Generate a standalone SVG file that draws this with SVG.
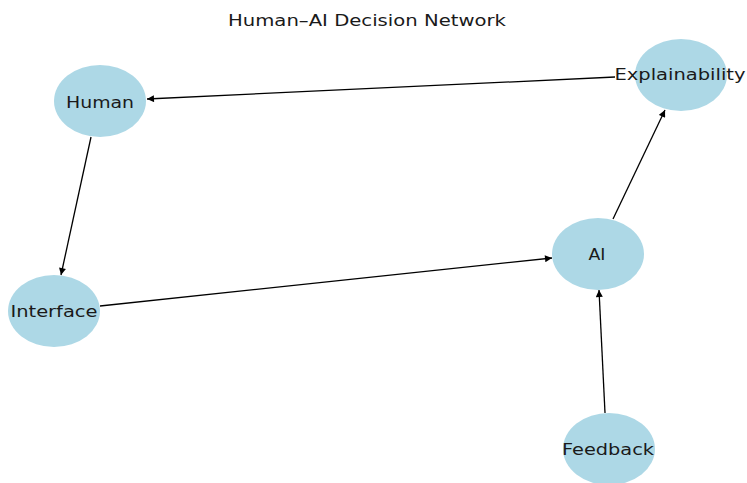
<svg xmlns="http://www.w3.org/2000/svg" width="747" height="483" viewBox="0 0 747 483">
<style>
.node{fill:#add8e6}
.lbl{font-family:"DejaVu Sans",sans-serif;font-size:16px;fill:#1a1a1a;text-anchor:middle;dominant-baseline:central}
.ttl{font-family:"DejaVu Sans",sans-serif;font-size:15px;fill:#1a1a1a;text-anchor:middle;dominant-baseline:central}
.edge{stroke:#000;stroke-width:1.3;fill:none;marker-end:url(#ah)}
</style>
<defs>
<marker id="ah" viewBox="0 0 10 10" refX="10" refY="5" markerWidth="8" markerHeight="7" markerUnits="userSpaceOnUse" orient="auto">
<path d="M0,0 L10,5 L0,10 z" fill="#000"/>
</marker>
</defs>
<rect width="747" height="483" fill="#fff"/>
<text x="367" y="21" class="ttl" textLength="278" lengthAdjust="spacingAndGlyphs">Human–AI Decision Network</text>
<g id="nodes-shapes">
<g id="human"><ellipse class="node" cx="100" cy="101" rx="46" ry="36"/><text class="lbl" x="100" y="102" textLength="68" lengthAdjust="spacingAndGlyphs">Human</text></g>
<g id="explainability"><ellipse class="node" cx="681" cy="75" rx="46" ry="36"/><text class="lbl" x="680" y="74" textLength="131" lengthAdjust="spacingAndGlyphs">Explainability</text></g>
<g id="interface"><ellipse class="node" cx="54" cy="311" rx="46" ry="36"/><text class="lbl" x="54" y="311" textLength="87" lengthAdjust="spacingAndGlyphs">Interface</text></g>
<g id="ai"><ellipse class="node" cx="598" cy="254" rx="46" ry="36"/><text class="lbl" x="597" y="254" textLength="17" lengthAdjust="spacingAndGlyphs">AI</text></g>
<g id="feedback"><ellipse class="node" cx="609" cy="449" rx="46" ry="36"/><text class="lbl" x="608" y="449" textLength="92" lengthAdjust="spacingAndGlyphs">Feedback</text></g>
</g>
<g id="edges">
<line class="edge" x1="615" y1="77" x2="147" y2="99"/>
<line class="edge" x1="91" y1="137" x2="61" y2="275"/>
<line class="edge" x1="100" y1="306" x2="552" y2="258"/>
<line class="edge" x1="613" y1="219" x2="665" y2="110"/>
<line class="edge" x1="605" y1="413" x2="599" y2="290"/>
</g>
</svg>
